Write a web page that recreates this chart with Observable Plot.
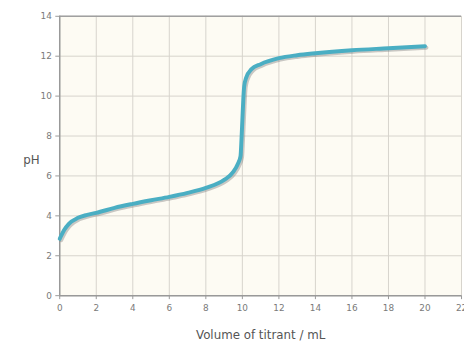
<!DOCTYPE html>
<html><head><meta charset="utf-8">
<script src="https://cdn.jsdelivr.net/npm/d3@7"></script>
<script src="https://cdn.jsdelivr.net/npm/@observablehq/plot@0.6"></script>
<style>
html,body{margin:0;padding:0;background:#fff;overflow:hidden;width:464px;height:347px;}
</style></head>
<body><div id="chart"></div>
<script>
const volume = [0, 0.25, 0.5, 1, 1.5, 2, 3, 4, 5, 6, 7, 8, 9, 9.5, 9.75, 9.9, 9.95, 10, 10.05, 10.1, 10.2, 10.5, 11, 12, 13, 14, 16, 18, 20];
const pHValues = [2.85, 3.3, 3.6, 3.9, 4.05, 4.15, 4.4, 4.6, 4.78, 4.95, 5.15, 5.4, 5.8, 6.2, 6.6, 7.0, 7.8, 8.8, 9.8, 10.5, 10.9, 11.35, 11.6, 11.9, 12.05, 12.15, 12.3, 12.4, 12.5];
const xTicks = [0, 2, 4, 6, 8, 10, 12, 14, 16, 18, 20, 22];
const yTicks = [0, 2, 4, 6, 8, 10, 12, 14];
const xLabel = "Volume of titrant / mL";
const yLabel = "pH";

const data = volume.map((v, i) => ({v, pH: pHValues[i]}));

const chart = Plot.plot({
  width: 470,
  height: 347,
  marginLeft: 60,
  marginRight: 3,
  marginTop: 16,
  marginBottom: 48,
  style: {fontFamily: "DejaVu Sans, sans-serif", background: "transparent"},
  x: {domain: [0, 22]},
  y: {domain: [0, 14]},
  marks: [
    Plot.frame({fill: "#fdfbf3", stroke: null}),
    Plot.gridX(xTicks, {stroke: "#d6d3cc", strokeOpacity: 1, strokeWidth: 1}),
    Plot.gridY(yTicks, {stroke: "#d6d3cc", strokeOpacity: 1, strokeWidth: 1}),
    Plot.ruleY([14], {stroke: "#a0a0a0", strokeWidth: 1.5}),
    Plot.axisX(xTicks, {tickSize: 4, tickPadding: 5, fontSize: 9, color: "#7a7a7a", stroke: "#999", label: null}),
    Plot.axisY(yTicks, {tickSize: 4, tickPadding: 4, fontSize: 9, color: "#7a7a7a", stroke: "#999", label: null}),
    Plot.ruleX([0], {stroke: "#999", strokeWidth: 1.5}),
    Plot.ruleY([0], {stroke: "#999", strokeWidth: 1.5}),
    Plot.line(data, {x: "v", y: "pH", curve: "monotone-x", stroke: "#7a7a7a", strokeOpacity: 0.4, strokeWidth: 4, dx: 1.5, dy: 1.5}),
    Plot.line(data, {x: "v", y: "pH", curve: "monotone-x", stroke: "#4aaec3", strokeWidth: 4}),
    Plot.text([xLabel], {frameAnchor: "bottom", dy: 44, fontSize: 12, fill: "#555"}),
    Plot.text([yLabel], {frameAnchor: "left", dx: -37, y: 6.8, fontSize: 12, fill: "#555"})
  ]
});
document.getElementById("chart").append(chart);
</script>
</body></html>
